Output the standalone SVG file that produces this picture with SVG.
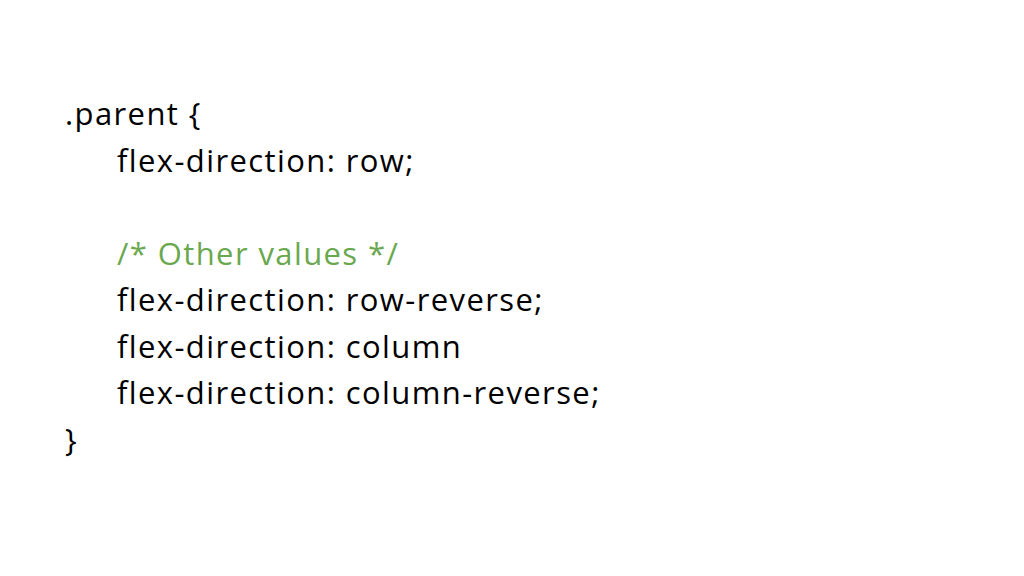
<svg xmlns="http://www.w3.org/2000/svg" width="1024" height="576" viewBox="0 0 1024 576">
<style>
text{font-family:"Open Sans","Noto Sans",sans-serif;font-size:31px;letter-spacing:1.4px;fill:#000}
.c{fill:#6aa84f}
</style>
<rect width="1024" height="576" fill="#fff"/>
<g id="code">
<text x="65" y="125">.parent {</text>
<text x="117" y="171.5">flex-direction: row;</text>
<text x="117" y="264.5" class="c">/* Other values */</text>
<text x="117" y="311">flex-direction: row-reverse;</text>
<text x="117" y="357.5">flex-direction: column</text>
<text x="117" y="404">flex-direction: column-reverse;</text>
<text x="65" y="450.5">}</text>
</g>
</svg>
